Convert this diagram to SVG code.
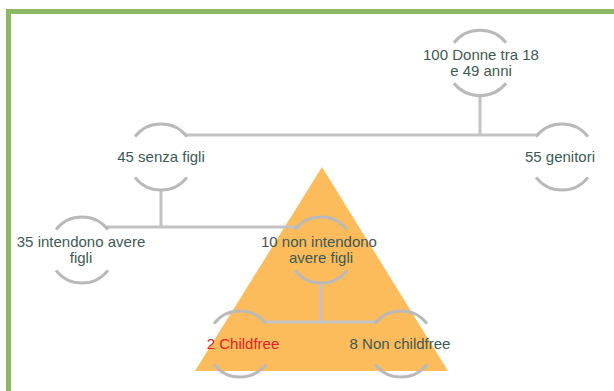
<svg xmlns="http://www.w3.org/2000/svg" width="614" height="391" viewBox="0 0 614 391">
<style>
.arc{fill:none;stroke:#b9b9b9;stroke-width:3}
.ln{fill:none;stroke:#c2c2c2;stroke-width:3}
.t{font-family:"Liberation Sans",Arial,sans-serif;font-size:15px;fill:#3d5955;text-anchor:middle}
.red{fill:#e0222a}
</style>
<rect x="0" y="0" width="614" height="391" fill="#ffffff"/>
<rect x="8.5" y="11.5" width="700" height="500" fill="none" stroke="#8cb864" stroke-width="5"/>
<polygon points="322,167 195,371 448,371" fill="#fcbc5b"/>
<g id="connectors">
<line class="ln" x1="480" y1="96" x2="480" y2="135"/>
<line class="ln" x1="186" y1="135" x2="537" y2="135"/>
<line class="ln" x1="161" y1="190" x2="161" y2="227"/>
<line class="ln" x1="107" y1="227" x2="296" y2="227"/>
<line class="ln" x1="321" y1="283" x2="321" y2="322"/>
<line class="ln" x1="266" y1="322" x2="376" y2="322"/>
</g>
<g id="n100">
<path class="arc" d="M454,42.7 A33.5,33.5 0 0 1 506,42.7"/>
<path class="arc" d="M454,83.3 A33.5,33.5 0 0 0 506,83.3"/>
<text class="t" x="481" y="60">100 Donne tra 18</text>
<text class="t" x="481" y="76">e 49 anni</text>
</g>
<g id="n45">
<path class="arc" d="M135,136.7 A33,33 0 0 1 187,136.7"/>
<path class="arc" d="M135,177.3 A33,33 0 0 0 187,177.3"/>
<text class="t" x="161" y="161.5">45 senza figli</text>
</g>
<g id="n55">
<path class="arc" d="M536,136.7 A33,33 0 0 1 588,136.7"/>
<path class="arc" d="M536,177.3 A33,33 0 0 0 588,177.3"/>
<text class="t" x="560" y="161.5">55 genitori</text>
</g>
<g id="n35">
<path class="arc" d="M56,229.7 A33,33 0 0 1 108,229.7"/>
<path class="arc" d="M56,270.3 A33,33 0 0 0 108,270.3"/>
<text class="t" x="81" y="246.5">35 intendono avere</text>
<text class="t" x="81" y="263">figli</text>
</g>
<g id="n10">
<path class="arc" d="M295,229.7 A33,33 0 0 1 347,229.7"/>
<path class="arc" d="M295,270.3 A33,33 0 0 0 347,270.3"/>
<text class="t" x="319" y="246.5">10 non intendono</text>
<text class="t" x="321" y="263">avere figli</text>
</g>
<g id="n2">
<path class="arc" d="M214,323.7 A33,33 0 0 1 266,323.7"/>
<path class="arc" d="M214,364.3 A33,33 0 0 0 266,364.3"/>
<text class="t red" x="243" y="349">2 Childfree</text>
</g>
<g id="n8">
<path class="arc" d="M375,323.7 A33,33 0 0 1 427,323.7"/>
<path class="arc" d="M375,364.3 A33,33 0 0 0 427,364.3"/>
<text class="t" x="400" y="349">8 Non childfree</text>
</g>
</svg>
